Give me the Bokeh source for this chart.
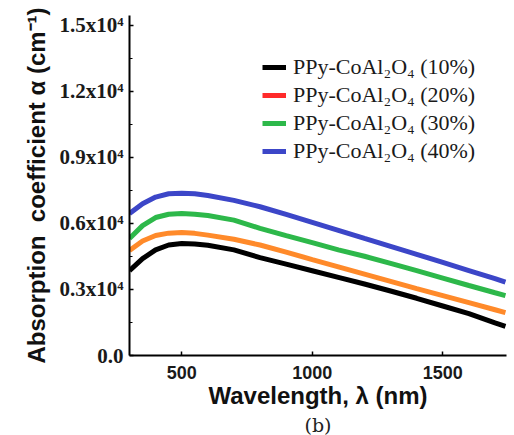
from bokeh.plotting import figure
from bokeh.models import (Range1d, FixedTicker, CustomJSTickFormatter, Legend,
                          LegendItem, Title, ColumnDataSource)
from bokeh.embed import file_html
from bokeh.resources import INLINE

# ---- data (absorption coefficient in units of 10^4 cm^-1) ----
wavelength = [300, 350, 400, 450, 500, 550, 600, 700, 800, 900, 1000, 1100,
              1200, 1300, 1400, 1500, 1600, 1700, 1740]
ppy_10 = [0.386, 0.440, 0.480, 0.502, 0.509, 0.507, 0.501, 0.480, 0.445, 0.415,
          0.385, 0.355, 0.325, 0.293, 0.260, 0.225, 0.190, 0.148, 0.132]
ppy_20 = [0.477, 0.520, 0.545, 0.556, 0.559, 0.555, 0.547, 0.528, 0.502, 0.470,
          0.436, 0.403, 0.370, 0.337, 0.304, 0.272, 0.240, 0.208, 0.195]
ppy_30 = [0.532, 0.590, 0.627, 0.642, 0.645, 0.642, 0.636, 0.615, 0.578, 0.545,
          0.513, 0.480, 0.451, 0.419, 0.386, 0.352, 0.318, 0.285, 0.272]
ppy_40 = [0.645, 0.690, 0.720, 0.735, 0.737, 0.735, 0.727, 0.705, 0.676, 0.641,
          0.605, 0.569, 0.532, 0.496, 0.460, 0.423, 0.386, 0.349, 0.333]

series_labels = ["PPy-CoAl\u2082O\u2084 (10%)", "PPy-CoAl\u2082O\u2084 (20%)",
                 "PPy-CoAl\u2082O\u2084 (30%)", "PPy-CoAl\u2082O\u2084 (40%)"]
x_ticks = [500, 1000, 1500]
y_ticks = [0.0, 0.3, 0.6, 0.9, 1.2, 1.5]
y_minor = [0.15, 0.45, 0.75, 1.05, 1.35]

curve_colors = ["#000000", "#ff8a2a", "#2db84a", "#3c46c8"]
legend_colors = ["#000000", "#ff2a2a", "#2db84a", "#3c46c8"]

p = figure(width=514, height=435, output_backend="svg", toolbar_location=None,
           x_range=Range1d(300, 1744), y_range=Range1d(0, 1.545),
           min_border_left=129, min_border_right=8, min_border_top=15,
           min_border_bottom=80)
p.outline_line_color = None
p.grid.visible = False

src = ColumnDataSource(dict(x=wavelength, a=ppy_10, b=ppy_20, c=ppy_30, d=ppy_40))
for col, colr in zip(["a", "b", "c", "d"], curve_colors):
    p.line("x", col, source=src, line_color=colr, line_width=5)

# legend (the 20% entry is drawn red in the original legend); proxies lie off-range
items = []
for lab, colr in zip(series_labels, legend_colors):
    r = p.line([0, 1], [-5, -5], line_color=colr, line_width=5)
    items.append(LegendItem(label=lab, renderers=[r]))
leg = Legend(items=items, location=(133, 190), border_line_color=None,
             background_fill_alpha=0, padding=0, margin=0, spacing=0,
             glyph_width=24, glyph_height=28, label_height=28, label_standoff=7,
             label_text_font="Liberation Serif", label_text_font_size="22px",
             label_text_color="#1a1a1a")
p.add_layout(leg, "center")

# axes
for ax in (p.xaxis[0], p.yaxis[0]):
    ax.axis_line_width = 2
    ax.axis_line_color = "#000000"
    ax.major_tick_in = 4
    ax.major_tick_out = 0
    ax.major_tick_line_width = 1.5
    ax.minor_tick_in = 3
    ax.minor_tick_out = 0
    ax.major_label_text_color = "#1a1a1a"
    ax.axis_label_text_color = "#111111"
    ax.axis_label_text_font_style = "bold"
    ax.axis_label_text_font = "Liberation Sans"

p.xaxis.ticker = FixedTicker(ticks=x_ticks)
p.xaxis.minor_tick_line_color = None
p.xaxis.major_label_text_font = "Liberation Sans"
p.xaxis.major_label_text_font_style = "bold"
p.xaxis.major_label_text_font_size = "18px"
p.xaxis.major_label_standoff = 10
p.xaxis.axis_label = "Wavelength, \u03bb (nm)"
p.xaxis.axis_label_text_font_size = "24px"
p.xaxis.axis_label_standoff = 0

p.yaxis.ticker = FixedTicker(ticks=y_ticks, minor_ticks=y_minor)
p.yaxis.formatter = CustomJSTickFormatter(
    code="return tick == 0 ? '0.0' : tick.toFixed(1) + 'x10\u2074';")
p.yaxis.major_label_text_font = "Liberation Serif"
p.yaxis.major_label_text_font_style = "bold"
p.yaxis.major_label_text_font_size = "21px"
p.yaxis.major_label_standoff = 6
p.yaxis.axis_label = "Absorption\u00a0\u00a0coefficient \u03b1 (cm\u207b\u00b9)"
p.yaxis.axis_label_text_font_size = "24px"
p.yaxis.axis_label_standoff = 6

p.add_layout(Title(text="(b)", align="center", text_font="DejaVu Serif",
                   text_font_size="19px", text_font_style="normal",
                   text_color="#222222", standoff=0), "below")

open("out.html", "w").write(file_html(p, INLINE))
